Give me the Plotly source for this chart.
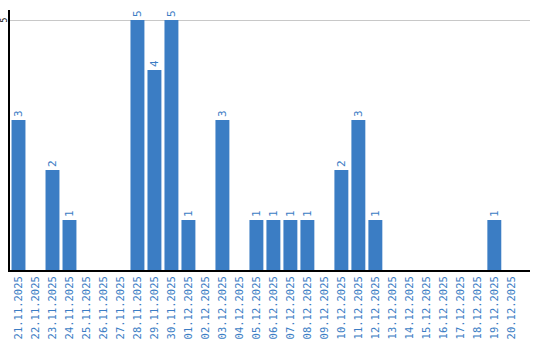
import plotly.graph_objects as go

dates = ["21.11.2025","22.11.2025","23.11.2025","24.11.2025","25.11.2025","26.11.2025",
         "27.11.2025","28.11.2025","29.11.2025","30.11.2025","01.12.2025","02.12.2025",
         "03.12.2025","04.12.2025","05.12.2025","06.12.2025","07.12.2025","08.12.2025",
         "09.12.2025","10.12.2025","11.12.2025","12.12.2025","13.12.2025","14.12.2025",
         "15.12.2025","16.12.2025","17.12.2025","18.12.2025","19.12.2025","20.12.2025"]
values = [3,0,2,1,0,0,0,5,4,5,1,0,3,0,1,1,1,1,0,2,3,1,0,0,0,0,0,0,1,0]
y_ticks = [5]

blue = "#3b7dc4"
labels = [str(v) if v > 0 else "" for v in values]

fig = go.Figure(go.Bar(
    x=list(range(len(dates))), y=values, marker_color=blue, marker_line_width=0,
    text=labels, textposition="outside", textangle=-90, cliponaxis=False,
    textfont=dict(color=blue, size=11, family="DejaVu Sans Mono"),
))
fig.update_layout(
    width=540, height=340, margin=dict(l=10, r=10, t=10, b=70, autoexpand=False),
    plot_bgcolor="white", paper_bgcolor="white", bargap=0.18, showlegend=False,
    font=dict(family="DejaVu Sans Mono", size=11),
)
for t in y_ticks:
    fig.add_annotation(text=str(t), xref="paper", yref="y", x=0, y=t,
                       xanchor="right", yanchor="middle", textangle=-90,
                       showarrow=False, borderpad=0, xshift=-1,
                       font=dict(color="black", size=8, family="DejaVu Sans Mono"))
fig.update_xaxes(tickmode="array", tickvals=list(range(len(dates))), ticktext=dates,
                 tickangle=-90, tickfont=dict(color=blue, size=10.5, family="DejaVu Sans Mono"),
                 range=[-0.5, 30.1], showline=True, linecolor="black", linewidth=2,
                 showgrid=False, ticks="", zeroline=False, automargin=False,
                 ticklabelstandoff=0)
fig.update_yaxes(range=[0, 5.2], tickvals=y_ticks, showticklabels=False,
                 showline=True, linecolor="black", linewidth=2, showgrid=True,
                 gridcolor="#c8c8c8", zeroline=False, ticks="", ticklen=0,
                 automargin=False)
fig.write_html("out.html")
